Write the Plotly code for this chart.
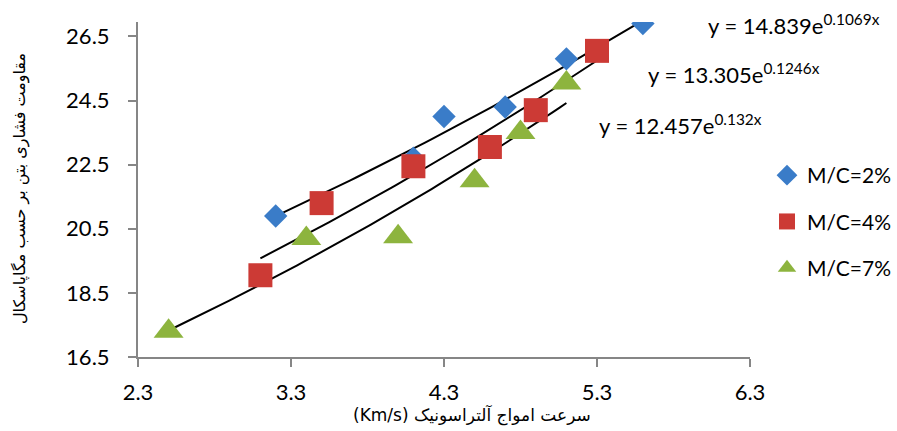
import numpy as np
import plotly.graph_objects as go

# ---- data ----
x_mc2 = [3.2, 4.1, 4.3, 4.7, 5.1, 5.6]
y_mc2 = [20.9, 22.7, 24.0, 24.3, 25.8, 26.9]

x_mc4 = [3.1, 3.5, 4.1, 4.6, 4.9, 5.3]
y_mc4 = [19.05, 21.3, 22.45, 23.05, 24.2, 26.05]

x_mc7 = [2.5, 3.4, 4.0, 4.5, 4.8, 5.1]
y_mc7 = [17.3, 20.2, 20.25, 22.0, 23.5, 25.05]

series_names = ["M/C=2%", "M/C=4%", "M/C=7%"]
trend_a = [14.839, 13.305, 12.457]
trend_b = [0.1069, 0.1246, 0.132]
trend_labels = ["y = 14.839e<sup>0.1069x</sup>",
                "y = 13.305e<sup>0.1246x</sup>",
                "y = 12.457e<sup>0.132x</sup>"]

x_ticks = [2.3, 3.3, 4.3, 5.3, 6.3]
y_ticks = [16.5, 18.5, 20.5, 22.5, 24.5, 26.5]

x_title = "سرعت امواج آلتراسونیک (Km/s)"
y_title = "مقاومت فشاری بتن بر حسب مگاپاسکال"

colors = ["#3A7CC8", "#CC3A35", "#8DB43E"]
symbols = ["diamond", "square", "triangle-up"]
sizes = [18, 24, 26]

xs = [x_mc2, x_mc4, x_mc7]
ys = [y_mc2, y_mc4, y_mc7]

fig = go.Figure()

# trendlines (exponential fits printed on the chart)
for i in range(3):
    xx = np.linspace(min(xs[i]), max(xs[i]), 60)
    yy = trend_a[i] * np.exp(trend_b[i] * xx)
    fig.add_trace(go.Scatter(x=xx, y=yy, mode="lines",
                             line=dict(color="black", width=2),
                             showlegend=False, hoverinfo="skip"))

for i in range(3):
    fig.add_trace(go.Scatter(
        x=xs[i], y=ys[i], mode="markers", name=series_names[i],
        legendgroup=series_names[i],
        marker=dict(symbol=symbols[i], size=sizes[i], color=colors[i],
                    line=dict(width=0))))

FONT = "Lato, 'Open Sans', sans-serif"
AR_FONT = "'DejaVu Sans', sans-serif"

axis_common = dict(showgrid=False, zeroline=False, showline=True,
                   linecolor="#868686", linewidth=2, automargin=False,
                   ticks="outside", ticklen=8, tickwidth=1.5, tickcolor="#868686",
                   tickfont=dict(family=FONT, size=22, color="black"))

fig.update_xaxes(range=[2.3, 6.3], tickvals=x_ticks,
                 ticktext=[f"{v:.1f}" for v in x_ticks],
                 ticklabelstandoff=7, **axis_common)
fig.update_yaxes(range=[16.5, 26.95], tickvals=y_ticks,
                 ticktext=[f"{v:.1f}" for v in y_ticks],
                 ticklabelstandoff=14, **axis_common)

annotations = [
    dict(text=trend_labels[0], x=706, y=25),
    dict(text=trend_labels[1], x=646, y=73),
    dict(text=trend_labels[2], x=597, y=125),
]
W0, W1, H0, H1 = 138, 750, 22, 357
def px_to_paper(px, py):
    return (px - W0) / (W1 - W0), (H1 - py) / (H1 - H0)

anns = []
for a in annotations:
    ax, ay = px_to_paper(a["x"], a["y"])
    anns.append(dict(text=a["text"], x=ax, y=ay, xref="paper", yref="paper",
                     xanchor="left", yanchor="middle", showarrow=False,
                     font=dict(family=FONT, size=22, color="black")))

tx, ty = px_to_paper(472, 415)
anns.append(dict(text="\u202B" + x_title + "\u202C", x=tx, y=ty,
                 xref="paper", yref="paper",
                 xanchor="center", yanchor="middle", showarrow=False,
                 font=dict(family=AR_FONT, size=17, color="black")))
tx, ty = px_to_paper(20, 189)
anns.append(dict(text=y_title, x=tx, y=ty, xref="paper", yref="paper",
                 xanchor="center", yanchor="middle", showarrow=False,
                 textangle=-90,
                 font=dict(family=AR_FONT, size=16, color="black")))

lx, ly = px_to_paper(767, 155)
fig.update_layout(
    width=897, height=431,
    margin=dict(l=W0, r=897 - W1, t=H0, b=431 - H1, pad=0, autoexpand=False),
    paper_bgcolor="white", plot_bgcolor="white",
    annotations=anns,
    showlegend=True,
    legend=dict(x=lx, y=ly, xanchor="left", yanchor="top",
                font=dict(family=FONT, size=21, color="black"),
                tracegroupgap=16, bgcolor="rgba(0,0,0,0)"),
)

fig.write_html("out.html",
               config={"displayModeBar": False},
               post_script="document.body.style.margin='0';"
                           "document.body.style.padding='0';")
